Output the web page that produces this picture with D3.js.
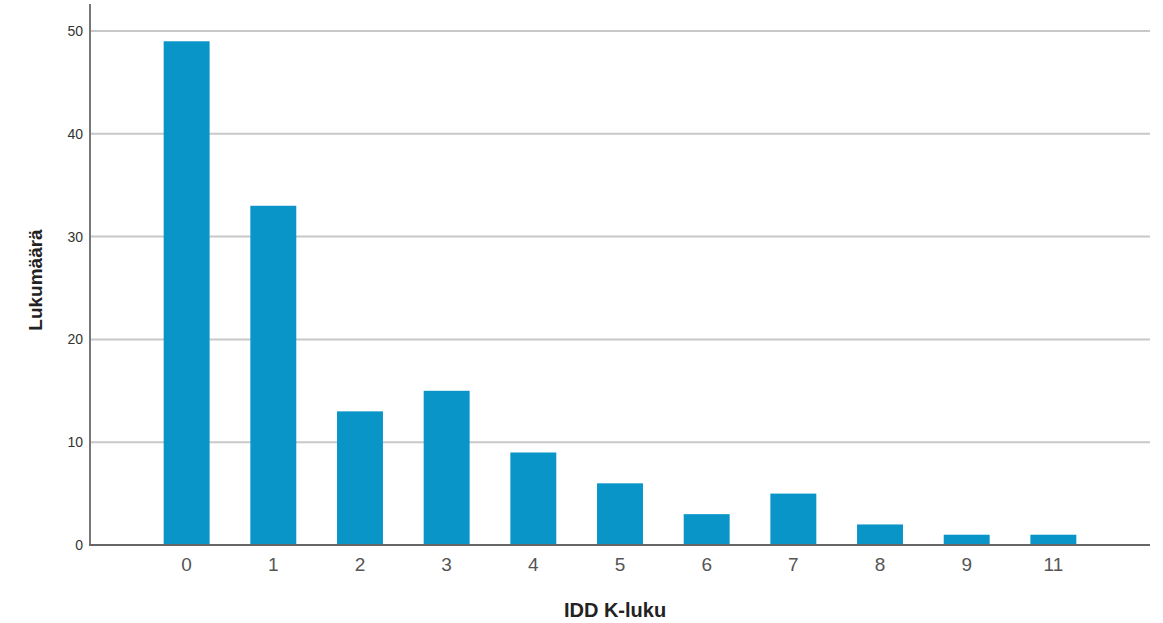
<!DOCTYPE html>
<html><head><meta charset="utf-8">
<script src="https://cdn.jsdelivr.net/npm/d3@7"></script>
<style>body{margin:0;background:#fff}svg{display:block}</style>
</head><body>
<svg id="c" width="1163" height="623"></svg>
<script>
const categories = ["0","1","2","3","4","5","6","7","8","9","11"];
const counts = [49,33,13,15,9,6,3,5,2,1,1];
const yTicks = [0,10,20,30,40,50];
const xTitle = "IDD K-luku";
const yTitle = "Lukumäärä";

(function(){
const svg = d3.select("#c");
const mLeft = 90, mRight = 1150, mTop = 31, mBottom = 545;
const x = d3.scaleBand().domain(categories).range([mLeft, mRight]).paddingInner(0.47).paddingOuter(0.85);
const y = d3.scaleLinear().domain([0, 50]).range([mBottom, mTop]);

// gridlines
svg.append("g").selectAll("line").data(yTicks.filter(d=>d>0)).join("line")
  .attr("x1", mLeft).attr("x2", mRight).attr("y1", d=>y(d)).attr("y2", d=>y(d))
  .attr("stroke", "#c8c8c8").attr("stroke-width", 2);

// bars
svg.append("g").selectAll("rect").data(categories).join("rect")
  .attr("x", d=>x(d)).attr("width", x.bandwidth())
  .attr("y", (d,i)=>y(counts[i])).attr("height", (d,i)=>mBottom - y(counts[i]))
  .attr("fill", "#0995c8");

// y axis
const ya = svg.append("g").attr("transform", `translate(${mLeft},0)`)
  .call(d3.axisLeft(y).tickValues(yTicks).tickSize(0).tickPadding(7));
ya.select(".domain").remove();
ya.selectAll("text").attr("font-family","Arial, 'Liberation Sans', sans-serif").attr("font-size",14).attr("fill","#333");
svg.append("line").attr("x1",mLeft).attr("x2",mLeft).attr("y1",4).attr("y2",mBottom+1)
  .attr("stroke","#777").attr("stroke-width",2);

// x axis
const xa = svg.append("g").attr("transform", `translate(0,${mBottom})`)
  .call(d3.axisBottom(x).tickSize(0).tickPadding(13));
xa.select(".domain").remove();
xa.selectAll("text").attr("font-family","Arial, 'Liberation Sans', sans-serif").attr("font-size",19).attr("fill","#555");
svg.append("line").attr("x1",mLeft-1).attr("x2",mRight).attr("y1",mBottom).attr("y2",mBottom)
  .attr("stroke","#666").attr("stroke-width",2);

// titles
svg.append("text").attr("x", 615).attr("y", 617).attr("text-anchor","middle")
  .attr("font-family","Arial, 'Liberation Sans', sans-serif").attr("font-weight","bold").attr("font-size",20).attr("fill","#222")
  .text(xTitle);
svg.append("text").attr("transform","translate(42,280) rotate(-90)").attr("text-anchor","middle")
  .attr("font-family","Arial, 'Liberation Sans', sans-serif").attr("font-weight","bold").attr("font-size",19).attr("fill","#222")
  .text(yTitle);
})();
</script>
</body></html>
